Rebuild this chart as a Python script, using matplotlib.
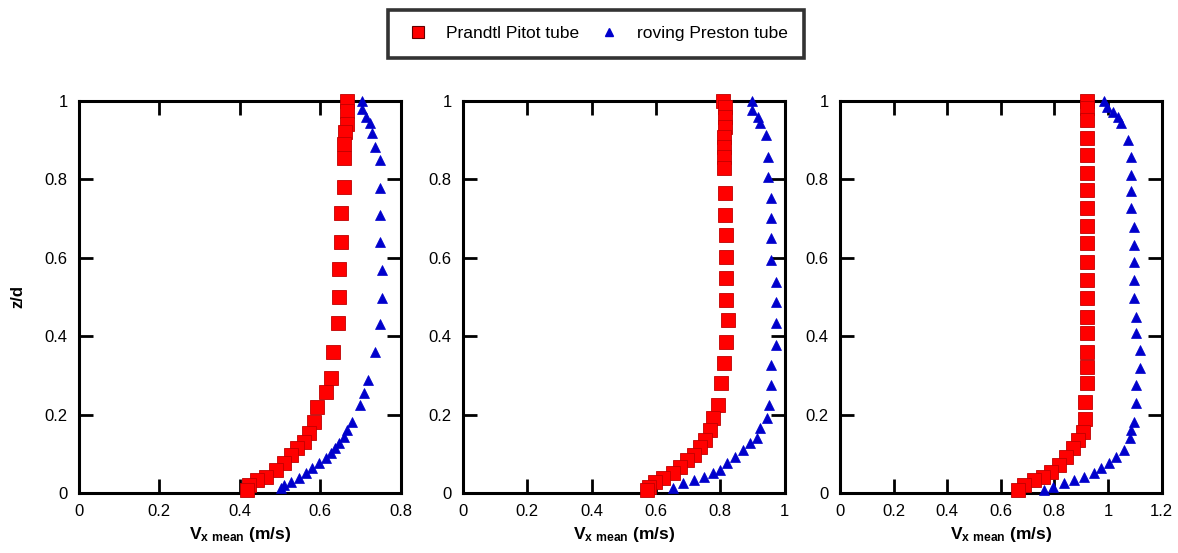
import matplotlib
matplotlib.use("Agg")
import matplotlib.pyplot as plt
from matplotlib.lines import Line2D
from matplotlib.ticker import FuncFormatter

plt.rcParams["font.family"] = ["Liberation Sans", "DejaVu Sans"]
plt.rcParams["mathtext.fontset"] = "custom"
plt.rcParams["mathtext.rm"] = "Liberation Sans"
plt.rcParams["mathtext.bf"] = "Liberation Sans:bold"

# panel 1
pitot1_v = [0.667, 0.667, 0.667, 0.663, 0.659, 0.659, 0.659, 0.653, 0.653, 0.646, 0.646, 0.644,
            0.632, 0.628, 0.614, 0.592, 0.584, 0.572, 0.560, 0.543, 0.527, 0.510, 0.490, 0.465,
            0.444, 0.424, 0.419]
pitot1_z = [1.0, 0.974, 0.94, 0.92, 0.89, 0.855, 0.78, 0.714, 0.64, 0.571, 0.5, 0.434,
            0.36, 0.293, 0.258, 0.22, 0.18, 0.153, 0.13, 0.115, 0.097, 0.077, 0.059, 0.041,
            0.033, 0.02, 0.008]
preston1_v = [0.704, 0.703, 0.713, 0.725, 0.728, 0.736, 0.748, 0.748, 0.748, 0.748, 0.755, 0.755,
              0.748, 0.736, 0.719, 0.708, 0.698, 0.679, 0.667, 0.659, 0.646, 0.638, 0.626, 0.614,
              0.597, 0.580, 0.564, 0.547, 0.527, 0.510, 0.503]
preston1_z = [1.0, 0.98, 0.96, 0.943, 0.918, 0.883, 0.85, 0.778, 0.71, 0.64, 0.569, 0.497,
              0.43, 0.36, 0.288, 0.255, 0.224, 0.181, 0.16, 0.143, 0.128, 0.115, 0.102, 0.09,
              0.077, 0.064, 0.051, 0.038, 0.028, 0.02, 0.012]

# panel 2
pitot2_v = [0.810, 0.816, 0.816, 0.816, 0.813, 0.813, 0.813, 0.813, 0.816, 0.816, 0.819, 0.819,
            0.819, 0.819, 0.825, 0.819, 0.813, 0.803, 0.794, 0.779, 0.769, 0.754, 0.738, 0.717,
            0.698, 0.676, 0.654, 0.623, 0.598, 0.577, 0.573]
pitot2_z = [1.0, 0.985, 0.959, 0.934, 0.908, 0.883, 0.857, 0.829, 0.765, 0.709, 0.658, 0.602,
            0.548, 0.492, 0.441, 0.385, 0.332, 0.281, 0.224, 0.191, 0.161, 0.135, 0.117, 0.097,
            0.084, 0.066, 0.051, 0.038, 0.028, 0.015, 0.008]
preston2_v = [0.900, 0.900, 0.916, 0.925, 0.941, 0.950, 0.950, 0.959, 0.959, 0.959, 0.959, 0.972,
              0.972, 0.972, 0.972, 0.959, 0.959, 0.953, 0.944, 0.925, 0.913, 0.894, 0.872, 0.847,
              0.822, 0.800, 0.779, 0.748, 0.717, 0.685, 0.654]
preston2_z = [1.0, 0.977, 0.959, 0.944, 0.913, 0.857, 0.806, 0.753, 0.702, 0.651, 0.594, 0.538,
              0.487, 0.433, 0.378, 0.327, 0.276, 0.224, 0.191, 0.166, 0.14, 0.128, 0.11, 0.092,
              0.077, 0.059, 0.051, 0.041, 0.033, 0.026, 0.013]

# panel 3
pitot3_v = [0.922, 0.922, 0.922, 0.922, 0.922, 0.922, 0.922, 0.922, 0.922, 0.922, 0.922, 0.922,
            0.922, 0.922, 0.922, 0.922, 0.922, 0.922, 0.915, 0.915, 0.906, 0.888,
            0.869, 0.844, 0.818, 0.788, 0.756, 0.725, 0.688, 0.663]
pitot3_z = [1.0, 0.982, 0.952, 0.905, 0.862, 0.816, 0.773, 0.726, 0.681, 0.637, 0.59, 0.543,
            0.497, 0.45, 0.407, 0.36, 0.322, 0.28, 0.233, 0.19, 0.156, 0.135,
            0.114, 0.092, 0.071, 0.054, 0.041, 0.033, 0.02, 0.008]
preston3_v = [0.985, 0.998, 1.019, 1.038, 1.050, 1.075, 1.088, 1.088, 1.088, 1.088, 1.098, 1.098,
              1.098, 1.098, 1.098, 1.103, 1.106, 1.119, 1.119, 1.106, 1.106, 1.098, 1.088, 1.084,
              1.060, 1.031, 1.005, 0.975, 0.949, 0.911, 0.874, 0.836, 0.794, 0.761]
preston3_z = [1.0, 0.985, 0.972, 0.96, 0.943, 0.9, 0.858, 0.811, 0.769, 0.726, 0.679, 0.633,
              0.588, 0.543, 0.497, 0.45, 0.407, 0.365, 0.318, 0.276, 0.229, 0.182, 0.161, 0.14,
              0.11, 0.093, 0.076, 0.063, 0.05, 0.042, 0.033, 0.025, 0.016, 0.008]

x_limits = [0.8, 1.0, 1.2]
panels = [
    (pitot1_v, pitot1_z, preston1_v, preston1_z),
    (pitot2_v, pitot2_z, preston2_v, preston2_z),
    (pitot3_v, pitot3_z, preston3_v, preston3_z),
]

red = "#ff0000"
blue = "#0000cc"
fmt = FuncFormatter(lambda v, p: f"{v:g}")

fig = plt.figure(figsize=(11.78, 5.53), dpi=100)
lefts = [0.067, 0.393, 0.713]
width = 0.273
for i, (pv, pz, rv, rz) in enumerate(panels):
    ax = fig.add_axes([lefts[i], 0.1085, width, 0.709])
    ax.plot(pv, pz, "s", ms=10.5, color=red, mec="#c00000", mew=0.6, clip_on=False, zorder=3)
    ax.plot(rv, rz, "^", ms=7, color=blue, mec=blue, mew=0.5, clip_on=False, zorder=4)
    ax.set_xlim(0, x_limits[i])
    ax.set_ylim(0, 1)
    ax.set_xticks([round(0.2 * k, 1) for k in range(int(round(x_limits[i] / 0.2)) + 1)])
    ax.set_yticks([0, 0.2, 0.4, 0.6, 0.8, 1.0])
    ax.xaxis.set_major_formatter(fmt)
    ax.yaxis.set_major_formatter(fmt)
    ax.tick_params(direction="in", length=10, width=2, top=True, right=True,
                   labelsize=12, pad=8)
    for s in ax.spines.values():
        s.set_linewidth(2.2)
    ax.set_xlabel(r"$\mathbf{V_{x\ mean}}$ (m/s)", fontsize=12.5, fontweight="bold", labelpad=4)
    if i == 0:
        ax.set_ylabel("z/d", fontsize=12, fontweight="bold", labelpad=14)

handles = [
    Line2D([], [], ls="none", marker="s", ms=9, color=red, mec="#600000", mew=0.8),
    Line2D([], [], ls="none", marker="^", ms=6, color=blue, mec=blue),
]
leg = fig.legend(handles, ["Prandtl Pitot tube", "roving Preston tube"], loc="upper center",
                 bbox_to_anchor=(0.506, 0.992), ncol=2, fontsize=12.5, frameon=True,
                 fancybox=False, edgecolor="black", handletextpad=0.8, columnspacing=0.9,
                 handlelength=1.6, borderpad=0.95, borderaxespad=0.3)
leg.get_frame().set_linewidth(2.6)

fig.savefig("out.png", dpi=100)
